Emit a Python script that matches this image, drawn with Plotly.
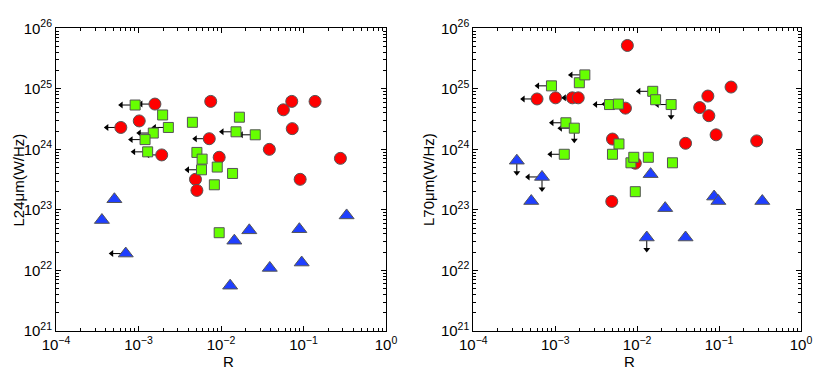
import numpy as np
import plotly.graph_objects as go

# ---- left panel: L24um vs R ----
r24_red = [1.58e-3, 6.1e-4, 1.02e-3, 7.5e-3, 7.2e-3, 1.91e-3, 4.9e-3, 5.1e-3, 9.5e-3,
           3.85e-2, 5.7e-2, 7.2e-2, 0.138, 7.3e-2, 9.1e-2, 0.28]
l24_red = [5.6e24, 2.3e24, 2.95e24, 6.2e24, 1.5e24, 8.1e23, 3.2e23, 2.1e23, 7.4e23,
           1.0e24, 4.5e24, 6.2e24, 6.2e24, 2.2e24, 3.2e23, 7.1e23]
lim24_red = [1, 1, 0, 0, 1, 1, 0, 0, 0, 0, 0, 0, 0, 0, 0, 0]

r24_green = [9.1e-4, 1.96e-3, 2.3e-3, 1.51e-3, 1.2e-3, 1.29e-3, 4.5e-3, 5.1e-3, 5.9e-3,
             5.8e-3, 9.0e-3, 8.3e-3, 1.38e-2, 1.67e-2, 1.52e-2, 2.6e-2, 9.5e-3]
l24_green = [5.4e24, 3.7e24, 2.3e24, 1.86e24, 1.45e24, 9.1e23, 2.8e24, 8.9e23, 6.9e23,
             4.6e23, 5.1e23, 2.6e23, 4.0e23, 3.4e24, 1.95e24, 1.74e24, 4.2e22]
lim24_green = [1, 0, 1, 1, 1, 1, 0, 0, 0, 1, 0, 0, 0, 0, 1, 1, 0]

r24_blue = [5.1e-4, 3.6e-4, 7.0e-4, 1.45e-2, 2.2e-2, 1.29e-2, 3.9e-2, 8.9e-2, 9.5e-2, 0.333]
l24_blue = [1.5e23, 6.8e22, 1.9e22, 3.1e22, 4.6e22, 5.6e21, 1.1e22, 4.8e22, 1.35e22, 8.1e22]
lim24_blue = [0, 0, 1, 0, 0, 0, 0, 0, 0, 0]

# ---- right panel: L70um vs R ----
r70_red = [7.6e-3, 6.0e-4, 1.01e-3, 1.62e-3, 1.91e-3, 7.2e-3, 5.0e-3, 9.5e-3, 4.9e-3,
           3.9e-2, 5.8e-2, 7.3e-2, 7.5e-2, 9.2e-2, 0.14, 0.288]
l70_red = [5.2e25, 6.8e24, 7.1e24, 7.1e24, 7.1e24, 4.8e24, 1.48e24, 5.9e23, 1.38e23,
           1.26e24, 4.9e24, 7.6e24, 3.6e24, 1.74e24, 1.07e25, 1.38e24]
lim70_red = [0, 1, 0, 1, 1, 0, 0, 0, 0, 0, 0, 0, 0, 0, 0, 0]
up70_red = [0] * 16

r70_green = [9.0e-4, 1.97e-3, 2.3e-3, 1.35e-3, 1.71e-3, 1.29e-3, 4.6e-3, 5.9e-3, 1.55e-2,
             1.68e-2, 2.6e-2, 5.0e-3, 6.0e-3, 8.4e-3, 9.1e-3, 1.37e-2, 2.7e-2, 9.5e-3]
l70_green = [1.12e25, 1.26e25, 1.7e25, 2.75e24, 2.24e24, 8.3e23, 5.5e24, 5.6e24, 9.1e24,
             6.6e24, 5.5e24, 8.3e23, 1.23e24, 6.0e23, 7.4e23, 7.4e23, 6.0e23, 2.0e23]
lim70_green = [1, 0, 1, 1, 1, 1, 1, 1, 1, 0, 1, 0, 0, 0, 0, 0, 0, 0]
up70_green = [0, 0, 0, 0, 1, 0, 0, 0, 0, 0, 1, 0, 0, 0, 0, 0, 0, 0]

r70_blue = [3.4e-4, 6.9e-4, 5.1e-4, 1.46e-2, 1.31e-2, 2.2e-2, 3.9e-2, 8.7e-2, 9.8e-2, 0.337]
l70_blue = [6.5e23, 3.5e23, 1.4e23, 3.9e23, 3.5e22, 1.07e23, 3.5e22, 1.66e23, 1.4e23, 1.4e23]
lim70_blue = [0, 1, 0, 0, 0, 0, 0, 0, 0, 0]
up70_blue = [1, 1, 0, 0, 1, 0, 0, 0, 0, 0]

x_ticks = [1e-4, 1e-3, 1e-2, 1e-1, 1]
x_labels = ["10<sup>−4</sup>", "10<sup>−3</sup>", "10<sup>−2</sup>", "10<sup>−1</sup>", "10<sup>0</sup>"]
y_ticks = [1e21, 1e22, 1e23, 1e24, 1e25, 1e26]
y_labels = ["10<sup>21</sup>", "10<sup>22</sup>", "10<sup>23</sup>", "10<sup>24</sup>",
            "10<sup>25</sup>", "10<sup>26</sup>"]

FONT = "Liberation Sans, Arial, sans-serif"
STYLES = {
    "red": dict(symbol="circle", size=12, color="#ff0000"),
    "green": dict(symbol="square", size=10, color="#66ff00"),
    "blue": dict(symbol="triangle-up", size=13, color="#1f3fff"),
}

fig = go.Figure()


def add_group(fig, xs, ys, style, lims, ups, xa, ya):
    # limit arrows first so the markers sit on top of the shafts
    sx, sy, hx, hy = [], [], [], []
    dx, dy = [], []
    for x, y, lim, up in zip(xs, ys, lims, ups):
        if lim:
            sx += [x, x / 10 ** 0.17, None]
            sy += [y, y, None]
            hx.append(x / 10 ** 0.17)
            hy.append(y)
        if up:
            sx += [x, x, None]
            sy += [y, y / 10 ** 0.2, None]
            dx.append(x)
            dy.append(y / 10 ** 0.2)
    if sx:
        fig.add_trace(go.Scatter(x=sx, y=sy, mode="lines", xaxis=xa, yaxis=ya,
                                 showlegend=False, hoverinfo="skip",
                                 line=dict(color="black", width=1)))
    if hx:
        fig.add_trace(go.Scatter(x=hx, y=hy, mode="markers", xaxis=xa, yaxis=ya,
                                 showlegend=False, hoverinfo="skip",
                                 marker=dict(symbol="triangle-left", size=6, color="black")))
    if dx:
        fig.add_trace(go.Scatter(x=dx, y=dy, mode="markers", xaxis=xa, yaxis=ya,
                                 showlegend=False, hoverinfo="skip",
                                 marker=dict(symbol="triangle-down", size=6, color="black")))
    fig.add_trace(go.Scatter(
        x=xs, y=ys, mode="markers", xaxis=xa, yaxis=ya, showlegend=False,
        marker=dict(line=dict(color="#555555", width=1), **STYLES[style]),
    ))


add_group(fig, r24_red, l24_red, "red", lim24_red, [0] * 16, "x", "y")
add_group(fig, r24_green, l24_green, "green", lim24_green, [0] * 17, "x", "y")
add_group(fig, r24_blue, l24_blue, "blue", lim24_blue, [0] * 10, "x", "y")
add_group(fig, r70_red, l70_red, "red", lim70_red, up70_red, "x2", "y2")
add_group(fig, r70_green, l70_green, "green", lim70_green, up70_green, "x2", "y2")
add_group(fig, r70_blue, l70_blue, "blue", lim70_blue, up70_blue, "x2", "y2")

x_minor = [m * t for t in x_ticks[:-1] for m in range(2, 10)]
y_minor = [m * t for t in y_ticks[:-1] for m in range(2, 10)]

axis_common = dict(
    type="log", showgrid=False, zeroline=False, automargin=False,
    showline=True, linecolor="black", linewidth=1, mirror="ticks",
    ticks="inside", ticklen=5, tickcolor="black",
    tickfont=dict(family=FONT, size=15, color="black"),
)
minor_style = dict(ticks="inside", ticklen=3, tickcolor="black", showgrid=False)
xaxis_common = dict(range=[-4, 0], tickvals=x_ticks, ticktext=x_labels,
                    minor=dict(tickvals=x_minor, **minor_style), **axis_common)
yaxis_common = dict(range=[21, 26], tickvals=y_ticks, ticktext=y_labels,
                    minor=dict(tickvals=y_minor, **minor_style), **axis_common)

# page body has an 8px margin, so the figure is 16px smaller than the window
fig.update_layout(
    width=814, height=361,
    margin=dict(l=0, r=0, t=0, b=0),
    paper_bgcolor="white", plot_bgcolor="white",
    font=dict(family=FONT, size=15, color="black"),
    xaxis=dict(domain=[0.0590, 0.4644], anchor="y", **xaxis_common),
    yaxis=dict(domain=[0.1053, 0.9438], anchor="x", **yaxis_common),
    xaxis2=dict(domain=[0.5716, 0.9742], anchor="y2", **xaxis_common),
    yaxis2=dict(domain=[0.1053, 0.9438], anchor="x2", **yaxis_common),
)

# axis titles
for xc, txt in [(0.2617, "R"), (0.7729, "R")]:
    fig.add_annotation(x=xc, y=0.02, xref="paper", yref="paper", text=txt,
                       showarrow=False, font=dict(size=15), yanchor="middle")
for xc, anchor, txt in [(0.0, "left", "L24μm(W/Hz)"), (0.516, "center", "L70μm(W/Hz)")]:
    fig.add_annotation(x=xc, y=0.5235, xref="paper", yref="paper", text=txt,
                       showarrow=False, font=dict(size=15), textangle=-90,
                       xanchor=anchor, yanchor="middle")

fig.write_html("out.html")
